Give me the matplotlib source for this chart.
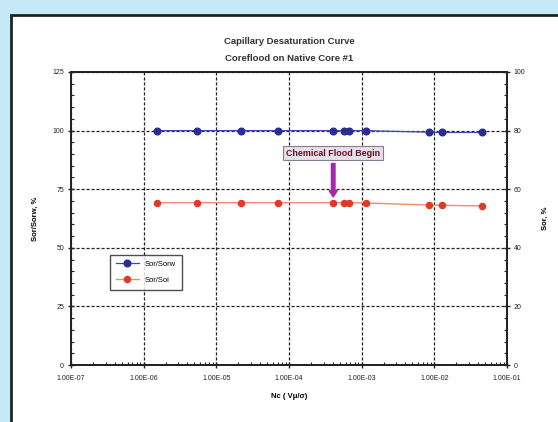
import numpy as np
import matplotlib
matplotlib.use("Agg")
import matplotlib.pyplot as plt
from matplotlib.patches import Rectangle
from matplotlib.ticker import MultipleLocator, LogLocator, NullFormatter

plt.rcParams['font.family'] = ['Liberation Sans', 'DejaVu Sans']

# capillary number Nc and saturations
nc = [1.54e-6, 5.4e-6, 2.16e-5, 7.1e-5, 4.06e-4, 5.7e-4, 6.7e-4, 1.13e-3,
      8.5e-3, 1.28e-2, 4.6e-2]
sor_ratio = [100, 100, 100, 100, 100, 100, 100, 100, 99.3, 99.2, 99.2]   # Sor/Sorw, % (left)
sor = [55.4, 55.4, 55.4, 55.4, 55.4, 55.4, 55.4, 55.3, 54.6, 54.5, 54.3]   # Sor, % (right)
xtick_vals = [1e-7, 1e-6, 1e-5, 1e-4, 1e-3, 1e-2, 1e-1]
xtick_text = ['1.00E-07', '1.00E-06', '1.00E-05', '1.00E-04', '1.00E-03', '1.00E-02', '1.00E-01']
flood_start = 4.06e-4


def main():
    fig = plt.figure(figsize=(5.58, 4.22), dpi=100)
    fig.patch.set_facecolor('#c6e9f8')
    # white panel with black border
    fig.patches.append(Rectangle((11 / 558, -0.1), 1.2, (422 - 15) / 422 + 0.1,
                                 transform=fig.transFigure, facecolor='white',
                                 edgecolor='#222222', lw=2.0, zorder=-5))

    ax = fig.add_axes([71 / 558, 57 / 422, 436 / 558, 293 / 422])
    ax.set_xscale('log')
    ax.set_xlim(1e-7, 1e-1)
    ax.set_ylim(0, 125)

    ax.plot(nc, sor_ratio, color='#3a4bb0', lw=0.9, marker='o', ms=4.8,
            mfc='#2a2f8f', mec='#2a2f8f', zorder=4, label='Sor/Sorw')

    ax2 = ax.twinx()
    ax2.set_ylim(0, 100)
    ax2.plot(nc, sor, color='#f28a72', lw=1.0, marker='o', ms=4.4,
             mfc='#e03a25', mec='#e03a25', zorder=4, label='Sor/Soi')

    # grid
    ax.set_xticks(xtick_vals)
    ax.set_xticklabels(xtick_text)
    ax.xaxis.set_minor_locator(LogLocator(base=10, subs=np.arange(2, 10)))
    ax.xaxis.set_minor_formatter(NullFormatter())
    ax.set_yticks([0, 25, 50, 75, 100, 125])
    ax.yaxis.set_minor_locator(MultipleLocator(5))
    ax2.set_yticks([0, 20, 40, 60, 80, 100])
    ax2.yaxis.set_minor_locator(MultipleLocator(4))
    ax.grid(True, which='major', color='#222222', ls=(0, (2.5, 1.5)), lw=0.9)

    for a in (ax, ax2):
        for s in a.spines.values():
            s.set_linewidth(1.3)
            s.set_color('#222222')
        a.tick_params(which='major', length=4, width=1, direction='inout',
                      labelsize=5, colors='#222222', pad=3)
        a.tick_params(which='minor', length=2.5, width=0.8, direction='in',
                      colors='#222222')
    ax.tick_params(axis='x', pad=5)

    ax.set_ylabel('Sor/Sorw, %', fontsize=5.5, fontweight='bold', labelpad=10)
    ax2.set_ylabel('Sor, %', fontsize=5.5, fontweight='bold', labelpad=12)
    ax.set_xlabel('Nc ( V\u03bc/\u03c3)', fontsize=5.5, fontweight='bold', labelpad=8)

    fig.text(0.518, 0.902, 'Capillary Desaturation Curve', ha='center', va='center',
             fontsize=6.8, fontweight='bold', color='#333333')
    fig.text(0.518, 0.861, 'Coreflood on Native Core #1', ha='center', va='center',
             fontsize=6.8, fontweight='bold', color='#333333')

    # annotation
    ax2.annotate('Chemical Flood Begin', xy=(flood_start, sor[4] + 1.0),
                 xytext=(flood_start, 72.3), ha='center', va='center',
                 fontsize=6.4, fontweight='bold', color='#6a1020',
                 bbox=dict(boxstyle='square,pad=0.3', fc='#e6e0ea', ec='#8a7a90', lw=0.8),
                 arrowprops=dict(arrowstyle='simple,head_width=0.9,head_length=0.7,tail_width=0.4',
                                 fc='#a02aa8', ec='#a02aa8'),
                 zorder=6)

    # legend
    h1, l1 = ax.get_legend_handles_labels()
    h2, l2 = ax2.get_legend_handles_labels()
    leg = ax2.legend(h1 + h2, l1 + l2, loc='upper left', bbox_to_anchor=(0.08, 0.39),
                     fontsize=5.5, frameon=True, fancybox=False, edgecolor='#222222',
                     handlelength=3, borderpad=0.8, labelspacing=1.1)
    leg.get_frame().set_linewidth(1.0)

    fig.savefig('out.png', dpi=100, facecolor=fig.get_facecolor())


if __name__ == "__main__":
    main()
